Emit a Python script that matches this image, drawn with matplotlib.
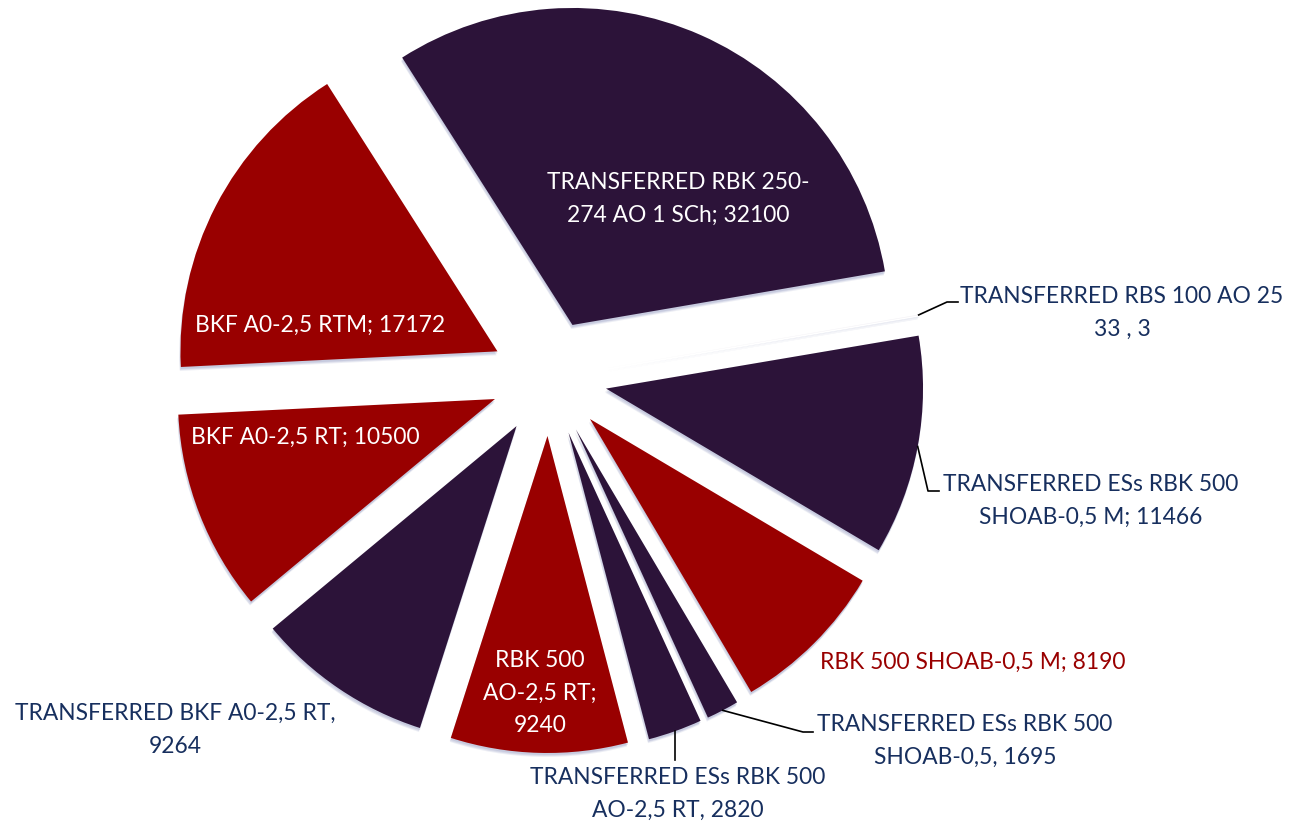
import numpy as np
import matplotlib.pyplot as plt
from matplotlib.patches import Wedge

plt.rcParams['font.family'] = ['Lato', 'DejaVu Sans']

# Data (clockwise from the top-left)
labels = ['TRANSFERRED RBK 250-\n274 AO 1 SCh; 32100',
          'TRANSFERRED RBS 100 AO 25\n33 , 3',
          'TRANSFERRED ESs RBK 500\nSHOAB-0,5 M; 11466',
          'RBK 500 SHOAB-0,5 M; 8190',
          'TRANSFERRED ESs RBK 500\nSHOAB-0,5, 1695',
          'TRANSFERRED ESs RBK 500\nAO-2,5 RT, 2820',
          'RBK 500\nAO-2,5 RT;\n9240',
          'TRANSFERRED BKF A0-2,5 RT,\n9264',
          'BKF A0-2,5 RT; 10500',
          'BKF A0-2,5 RTM; 17172']
values = [32100, 33.3, 11466, 8190, 1695, 2820, 9240, 9264, 10500, 17172]

purple = '#2c1339'
red = '#990000'
navy = '#172f5e'
colors = [purple, '#f4f2f6', purple, red, purple, purple, red, purple, red, red]

W, H = 1292, 825
fig = plt.figure(figsize=(W / 100, H / 100), dpi=100)
ax = fig.add_axes([0, 0, 1, 1])

R = 317
cx, cy = 549, H - 378
wedges, _ = ax.pie(values, colors=colors, startangle=122.5, counterclock=False,
                   radius=R, center=(cx, cy), explode=[58] * len(values),
                   wedgeprops=dict(linewidth=0))

# soft shadow under each slice
for w in wedges:
    for dx, dy, a in [(-1, -4, 0.18), (-1, -3, 0.25), (0, -2, 0.3)]:
        s = Wedge((w.center[0] + dx, w.center[1] + dy), w.r, w.theta1, w.theta2,
                  facecolor='#9ea6c8', edgecolor='none', alpha=a, zorder=w.get_zorder() - 0.1)
        ax.add_patch(s)

ax.set_xlim(0, W)
ax.set_ylim(0, H)
ax.set_aspect('auto')
ax.axis('off')


def edge_point(w, extra=0):
    t = np.deg2rad((w.theta1 + w.theta2) / 2)
    return (w.center[0] + (w.r + extra) * np.cos(t), w.center[1] + (w.r + extra) * np.sin(t))


fs = 16.4
txt = dict(fontsize=fs, ha='center', va='center', linespacing=1.68)

# labels inside slices (white)
ax.text(678, H - 199, labels[0], color='white', **txt)
ax.text(540, H - 693, labels[6], color='white', **txt)
ax.text(305, H - 437, labels[8], color='white', **txt)
ax.text(320, H - 325, labels[9], color='white', **txt)

# labels outside
ax.text(1122, H - 313, labels[1], color=navy, **txt)
ax.text(1091, H - 501, labels[2], color=navy, **txt)
ax.text(973, H - 662, labels[3], color=red, **txt)
ax.text(965, H - 741, labels[4], color=navy, **txt)
ax.text(678, H - 794, labels[5], color=navy, **txt)
ax.text(175, H - 730, labels[7], color=navy, **txt)

# leader lines
lk = dict(color='black', lw=1.2, zorder=5)
x0, y0 = edge_point(wedges[1])
ax.plot([x0, 947, 958], [y0, H - 302, H - 302], **lk)
x0, y0 = edge_point(wedges[2])
ax.plot([x0, 928, 939], [y0, H - 491, H - 491], **lk)
x0, y0 = edge_point(wedges[4])
ax.plot([x0, 803, 813], [y0, H - 732, H - 732], **lk)
x0, y0 = edge_point(wedges[5])
ax.plot([x0, x0], [y0, H - 760], **lk)

fig.savefig('out.png', dpi=100)
